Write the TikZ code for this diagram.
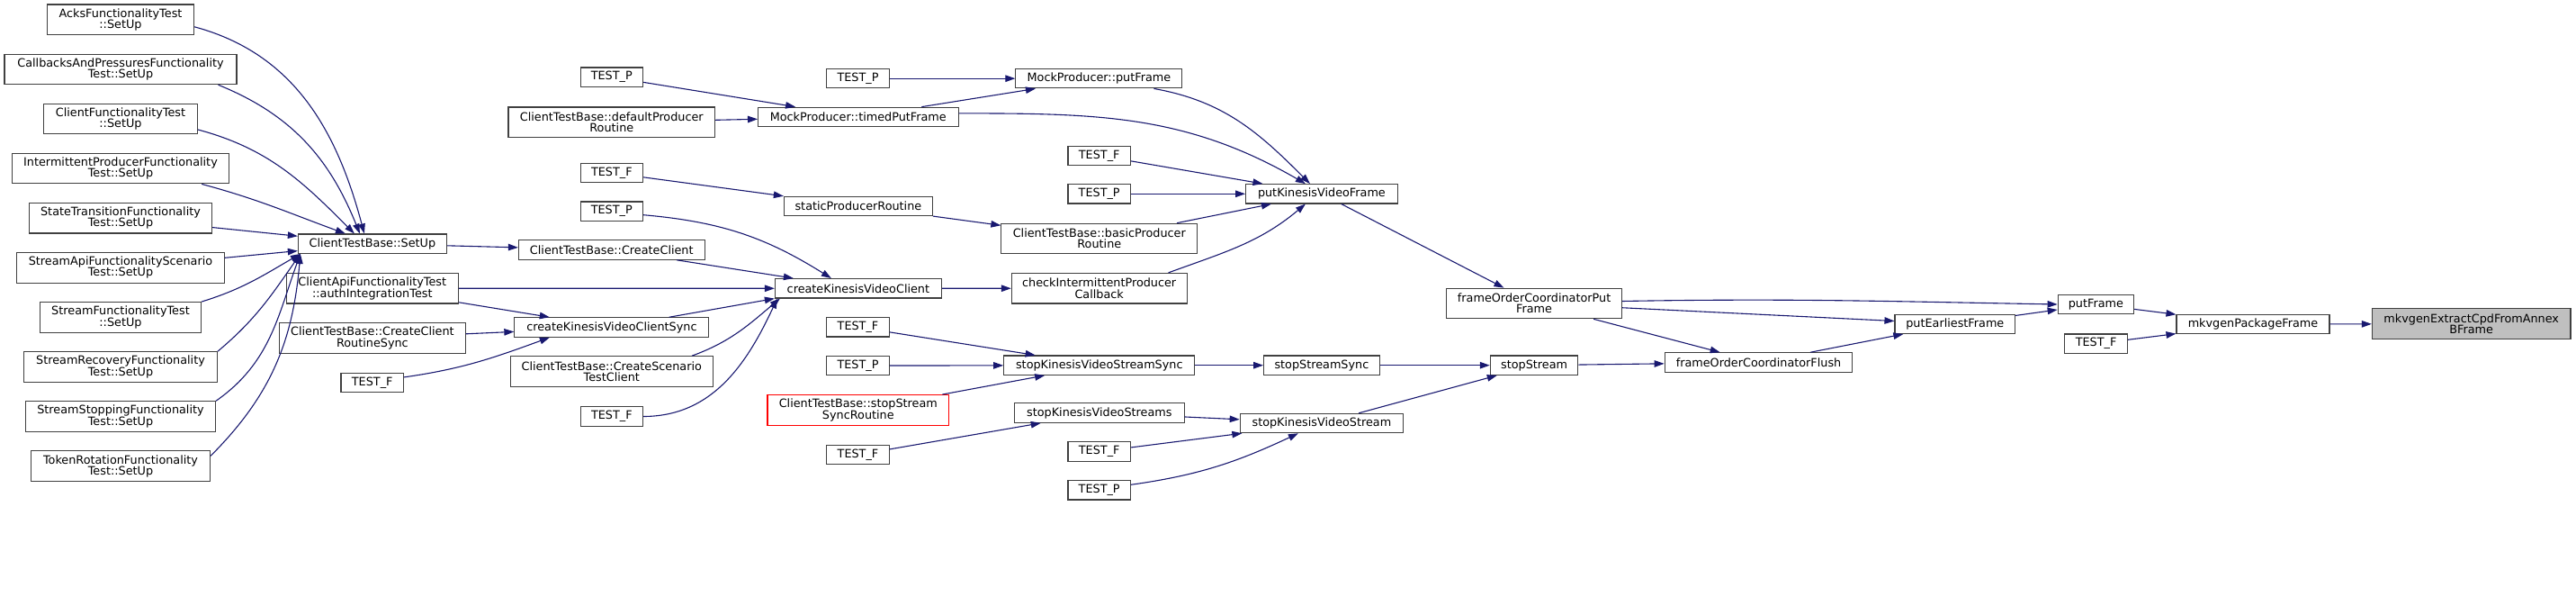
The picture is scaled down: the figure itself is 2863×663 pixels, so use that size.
\documentclass[tikz,border=0pt]{standalone}
\usepackage{fontspec}
\setmainfont{DejaVu Sans}
\usepackage{tikz}
\usetikzlibrary{arrows.meta}
\definecolor{edgeblue}{HTML}{191970}
\definecolor{boxline}{HTML}{404040}

\begin{document}
\begin{tikzpicture}[x=1pt,y=-1pt,font=\fontsize{12.8}{12.3}\selectfont,
fn/.style={draw=boxline,fill=white,line width=1.1pt,inner sep=0pt,align=center,minimum width=#1pt,minimum height=21.4pt},
fn2/.style={fn=#1,minimum height=33.6pt},
tst/.style={fn=69.4},
call/.style={draw=edgeblue,line width=1.1pt,-{Triangle[length=11pt,width=7.5pt]}}]
\useasboundingbox (0,0) rectangle (2863,663);
\foreach \n/\1/\w [count=\i from 0] in %
{acks/{AcksFunctionalityTest\\::SetUp}/163,cbp/{CallbacksAndPressuresFunctionality\\Test::SetUp}/258,
 cft/{ClientFunctionalityTest\\::SetUp}/171,ipf/{IntermittentProducerFunctionality\\Test::SetUp}/241.4,
 stf/{StateTransitionFunctionality\\Test::SetUp}/203,saf/{StreamApiFunctionalityScenario\\Test::SetUp}/230.4,
 sft/{StreamFunctionalityTest\\::SetUp}/179,srf/{StreamRecoveryFunctionality\\Test::SetUp}/215,
 ssf/{StreamStoppingFunctionality\\Test::SetUp}/211,trf/{TokenRotationFunctionality\\Test::SetUp}/199} {
   \node[fn2=\w] (\n) at (134,21.8+55.1*\i) {\1};
}
\node[fn=165] (setup) at (413.9,270.7) {ClientTestBase::SetUp};
\node[fn2=191] (auth) at (413.8,320.2) {ClientApiFunctionalityTest\\::authIntegrationTest};
\node[fn2=206.4] (ccrs) at (413.9,375.5) {ClientTestBase::CreateClient\\RoutineSync};
\node[tst] (tfa) at (413.7,424.9) {TEST\_F};

\node[tst] (tpa) at (679.8,85.7) {TEST\_P};
\node[fn2=229.6] (dpr) at (679.8,135.8) {ClientTestBase::defaultProducer\\Routine};
\node[tst] (tfb) at (679.8,192.1) {TEST\_F};
\node[tst] (tpb) at (679.8,234.7) {TEST\_P};
\node[fn=206.8] (cc) at (679.8,277.5) {ClientTestBase::CreateClient};
\node[fn=216] (kvcs) at (679.9,363.5) {createKinesisVideoClientSync};
\node[fn2=225.5] (csc) at (679.8,412.5) {ClientTestBase::CreateScenario\\TestClient};
\node[tst] (tfc) at (679.8,462.5) {TEST\_F};

\node[tst] (tpc) at (953.5,87.2) {TEST\_P};
\node[fn=222.5] (tpf) at (953.8,129.9) {MockProducer::timedPutFrame};
\node[fn=165] (spr) at (953.9,228.9) {staticProducerRoutine};
\node[fn=185] (kvc) at (953.9,320.3) {createKinesisVideoClient};
\node[tst] (tfd) at (953.5,363.3) {TEST\_F};
\node[tst] (tpd) at (953.5,406.1) {TEST\_P};
\node[fn2=201.7,draw=red] (sssr) at (953.8,455.4) {ClientTestBase::stopStream\\SyncRoutine};
\node[tst] (tfe) at (953.5,505) {TEST\_F};

\node[fn=185] (mpf) at (1221.4,87.2) {MockProducer::putFrame};
\node[tst] (tff) at (1221.7,172.8) {TEST\_F};
\node[tst] (tpe) at (1221.7,215.3) {TEST\_P};
\node[fn2=217.8] (bpr) at (1221.8,265) {ClientTestBase::basicProducer\\Routine};
\node[fn2=194.7] (cipc) at (1221.7,320.2) {checkIntermittentProducer\\Callback};
\node[fn=212.2] (kvsss) at (1221.8,405.7) {stopKinesisVideoStreamSync};
\node[fn=188.5] (kvss) at (1221.8,458.6) {stopKinesisVideoStreams};
\node[tst] (tfg) at (1221.7,501.4) {TEST\_F};
\node[tst] (tpg) at (1221.7,544.3) {TEST\_P};

\node[fn=168.6] (pkvf) at (1468.9,215.3) {putKinesisVideoFrame};
\node[fn=128.6] (sss) at (1468.9,405.7) {stopStreamSync};
\node[fn=181.4] (kvst) at (1468.9,470) {stopKinesisVideoStream};

\node[fn2=194.6] (fop) at (1705.1,337) {frameOrderCoordinatorPut\\Frame};
\node[fn=97.6] (ss) at (1705.1,405.7) {stopStream};
\node[fn=208.6] (fof) at (1954.5,402.5) {frameOrderCoordinatorFlush};
\node[fn=133.6] (pef) at (2172.8,359.8) {putEarliestFrame};
\node[fn=84.4] (pf) at (2329.4,338) {putFrame};
\node[fn=70] (tfh) at (2329.6,381.7) {TEST\_F};
\node[fn=170] (mpkg) at (2504,360) {mkvgenPackageFrame};
\node[fn2=220.6,fill=black!25] (mext) at (2746.7,359.7) {mkvgenExtractCpdFromAnnex\\BFrame};

\draw[call] ([yshift=-8pt]acks.east) to[out=-15,in=105] ([xshift=-9pt]setup.north);
\draw[call] ([xshift=-21pt]cbp.south east) to[out=-22,in=112] ([xshift=-14pt]setup.north);
\draw[call] ([yshift=-12pt]cft.east) to[out=-15,in=135] ([xshift=-20pt]setup.north);
\draw[call] ([xshift=-31pt]ipf.south east) to[out=-15,in=160] ([xshift=-30pt]setup.north);
\draw[call] (sft.north east) to[out=17,in=-150] ([xshift=3pt]setup.south west);
\draw[call] (srf.north east) to[out=40,in=-125] ([xshift=3pt]setup.south west);
\draw[call] (ssf.north east) to[out=35,in=-110] ([xshift=3pt]setup.south west);
\draw[call] ([yshift=-6pt]trf.north east) to[out=45,in=-95] ([xshift=3pt]setup.south west);
\foreach \a/\b in %
{stf/setup,saf/setup,setup/cc,cc/kvc,auth/kvc,auth/kvcs,ccrs/kvcs,tpa/tpf,dpr/tpf,tfb/spr,
 tpc/mpf,tpf/mpf,tff/pkvf,tpe/pkvf,spr/bpr,bpr/pkvf,kvc/cipc,pkvf/fop,tfd/kvsss,tpd/kvsss,
 sssr/kvsss,tfe/kvss,kvsss/sss,kvss/kvst,tfg/kvst,sss/ss,kvst/ss,ss/fof,fop/fof,fop/pef,
 fof/pef,pef/pf,pf/mpkg,tfh/mpkg,mpkg/mext} {
   \draw[call] (\a) -- (\b);
}
\draw[call] (kvcs) -- (kvc.south west);
\draw[call] ([yshift=-4pt]tpb.east) to[out=-5,in=148] ([xshift=-30pt]kvc.north);
\draw[call] ([yshift=6pt]tfa.east) to[out=8,in=-160] ([xshift=-69pt]kvcs.south);
\draw[call] ([xshift=-24pt]csc.north east) to[out=20,in=-140] ([xshift=6pt]kvc.south west);
\draw[call] (tfc.east) to[out=0,in=-115] ([xshift=3pt]kvc.south west);
\draw[call] ([yshift=4pt]tpf.east) to[out=0,in=150] ([xshift=-18pt]pkvf.north);
\draw[call] ([xshift=-32pt]mpf.south east) to[out=-10,in=135] ([xshift=-13pt]pkvf.north);
\draw[call] ([xshift=-21pt]cipc.north east) to[out=20,in=-140] ([xshift=-18pt]pkvf.south);
\draw[call] ([yshift=6pt]tpg.east) to[out=8,in=-155] ([xshift=-26pt]kvst.south);
\draw[call] ([yshift=2.5pt]fop.east) to[out=1,in=179] (pf.west);
\end{tikzpicture}
\end{document}
